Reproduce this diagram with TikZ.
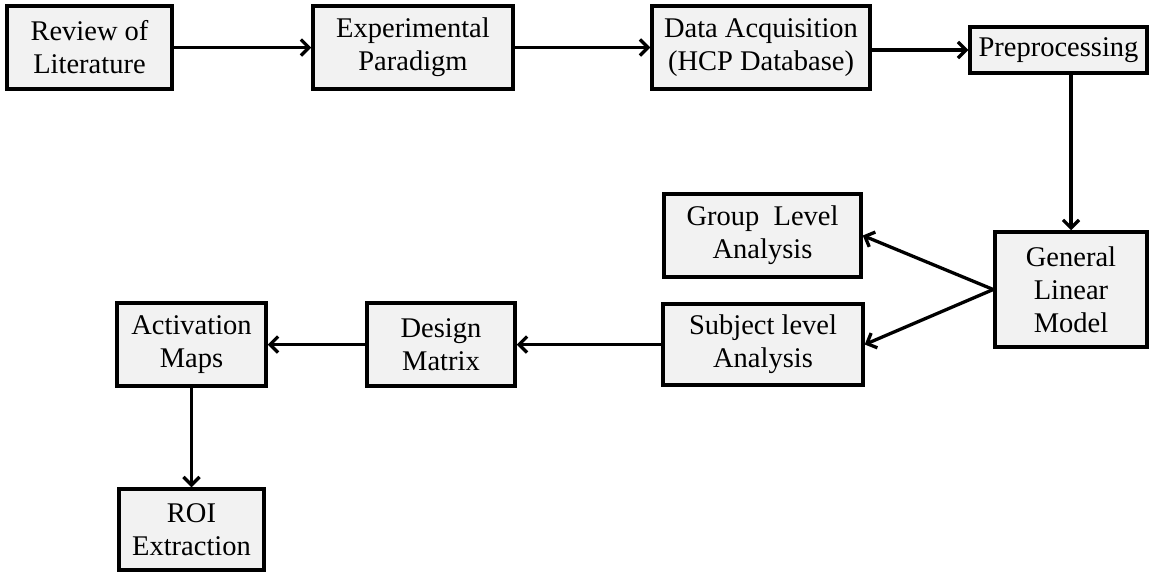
\documentclass[tikz,border=0pt]{standalone}
\usepackage{fontspec}
\setmainfont{Liberation Serif}
\usetikzlibrary{arrows.meta}
\begin{document}
\begin{tikzpicture}[x=1pt,y=-1pt,
  stepbox/.style={draw=black, line width=3.5pt, fill=black!5, rectangle,
    inner sep=0pt, align=center, font=\fontsize{28.5}{33}\selectfont},
  flow/.style={line width=3.3pt, -{Straight Barb[length=8pt,width=16pt,line width=3.3pt]}}]
\useasboundingbox (0,0) rectangle (1149,571);
\node[stepbox, minimum width=165pt, minimum height=83pt] (lit) at (89.5,47.5) {Review of\\Literature};
\node[stepbox, minimum width=200pt, minimum height=83pt] (exp) at (413,47.5) {Experimental\\Paradigm};
\node[stepbox, minimum width=218pt, minimum height=83pt] (data) at (761,47.5) {Data Acquisition\\(HCP Database)};
\node[stepbox, minimum width=177pt, minimum height=46pt] (pre) at (1058.5,50) {Preprocessing};
\node[stepbox, minimum width=152pt, minimum height=115pt] (glm) at (1071,289.5) {General\\Linear\\Model};
\node[stepbox, minimum width=197pt, minimum height=83pt] (group) at (762.5,235.5) {Group\ \ Level\\Analysis};
\node[stepbox, minimum width=200pt, minimum height=81pt] (subj) at (763,344.5) {Subject level\\Analysis};
\node[stepbox, minimum width=148pt, minimum height=83pt] (design) at (441,344.5) {Design\\Matrix};
\node[stepbox, minimum width=149pt, minimum height=83pt] (act) at (191.5,344.5) {Activation\\Maps};
\node[stepbox, minimum width=145pt, minimum height=81pt] (roi) at (191.5,529.5) {ROI\\Extraction};
\draw[flow] (lit) -- (exp);
\draw[flow] (exp) -- (data);
\draw[flow] (data.east |- pre.west) -- (pre.west);
\draw[flow] (glm.north |- pre.south) -- (glm.north);
\draw[flow] (glm.west) -- (group.east);
\draw[flow] (glm.west) -- (subj.east);
\draw[flow] (subj) -- (design);
\draw[flow] (design) -- (act);
\draw[flow] (act) -- (roi);
\end{tikzpicture}
\end{document}
